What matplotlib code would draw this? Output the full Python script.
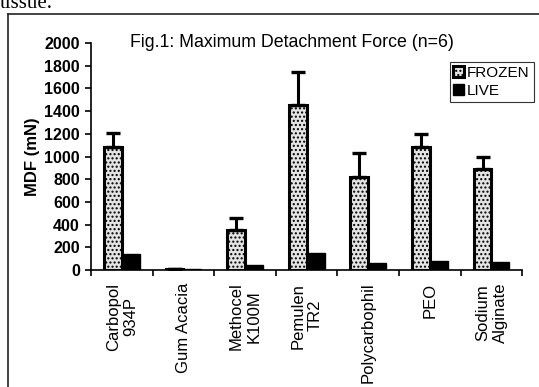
import numpy as np
import matplotlib.pyplot as plt

# data
polymers = ["Carbopol\n934P", "Gum Acacia", "Methocel\nK100M", "Pemulen\nTR2",
            "Polycarbophil", "PEO", "Sodium\nAlginate"]
frozen = [1085, 10, 350, 1450, 820, 1085, 890]
frozen_err = [125, 0, 105, 290, 210, 110, 110]
live = [145, 10, 45, 150, 60, 80, 75]

plt.rcParams['font.family'] = ['Liberation Sans', 'DejaVu Sans']

fig = plt.figure(figsize=(5.39, 3.87), dpi=100)
ax = fig.add_axes([0.169, 0.302, 0.80, 0.587])

x = np.arange(len(polymers))
w = 0.29
ax.bar(x - w/2, frozen, w, facecolor='#e4e4e4', edgecolor='black', hatch='....',
       linewidth=2.2, label='FROZEN')
ax.errorbar(x - w/2, frozen, yerr=[np.zeros(len(frozen)), frozen_err], fmt='none',
            ecolor='black', elinewidth=2.2, capsize=5, capthick=2.4)
ax.bar(x + w/2, live, w, color='black', edgecolor='black', label='LIVE')

ax.set_xlim(-0.5, len(polymers) - 0.5)
ax.set_ylim(0, 2000)
ax.set_yticks(np.arange(0, 2001, 200))
ax.set_xticks(np.arange(-0.5, len(polymers), 1), minor=False)
ax.set_xticklabels([])
ax.set_xticks(x, minor=True)
ax.set_xticklabels(polymers, minor=True, rotation=90, fontsize=12,
                   ha='center', va='top', multialignment='center')
ax.tick_params(axis='x', which='minor', length=0, pad=9)
ax.tick_params(axis='x', which='major', length=4, direction='out', width=1.2)
ax.tick_params(axis='y', labelsize=11.5, length=4, direction='out', width=1.2, pad=4)
for t in ax.get_yticklabels():
    t.set_fontweight('bold')
for s in ('left', 'bottom'):
    ax.spines[s].set_linewidth(1.2)
ax.spines['top'].set_visible(False)
ax.spines['right'].set_visible(False)
ax.set_ylabel("MDF (mN)", fontsize=12, fontweight='bold', labelpad=3)

ax.text(0.09, 1.0, "Fig.1: Maximum Detachment Force (n=6)", transform=ax.transAxes,
        fontsize=12.8, va='center', ha='left')
leg = fig.legend(*ax.get_legend_handles_labels(), loc='upper right',
                 bbox_to_anchor=(0.99, 0.84), fontsize=11,
                 frameon=True, fancybox=False, edgecolor='black', handlelength=0.7,
                 handleheight=0.8, handletextpad=0.2, borderpad=0.25,
                 labelspacing=0.25, borderaxespad=0.0)
leg.get_frame().set_linewidth(0.8)

# outer frame of the scanned page
fig.add_artist(plt.Line2D([0.015, 1.0], [0.964, 0.964], color='#222222', lw=1.2))
fig.add_artist(plt.Line2D([0.015, 0.015], [0.0, 0.964], color='#222222', lw=1.2))
fig.text(0.0, 0.99, "tissue.", fontsize=15, family='Liberation Serif', va='center')

fig.savefig("out.png", dpi=100)
